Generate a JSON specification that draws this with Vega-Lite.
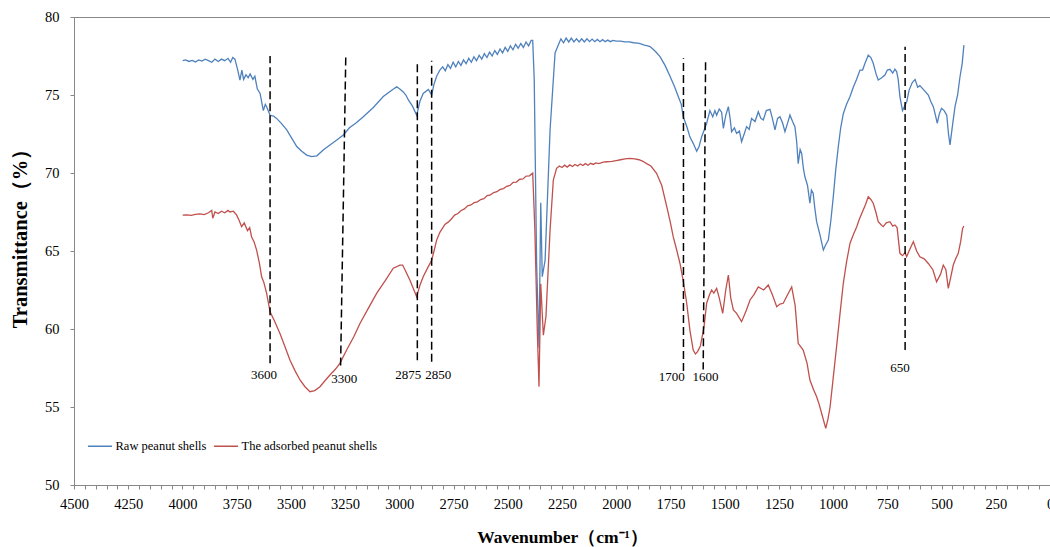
{
"$schema": "https://vega.github.io/schema/vega-lite/v6.json",
"width": 976, "height": 468,
"autosize": {"type": "none"},
"padding": {"left": 74, "top": 17, "right": 0, "bottom": 62},
"background": "white",
"config": {"view": {"stroke": "#888888", "strokeWidth": 1}, "font": "Liberation Serif",
"axis": {"labelFont": "Liberation Serif", "titleFont": "Liberation Serif", "labelOverlap": false, "grid": false,
"tickSize": 4, "tickColor": "#888888", "domainColor": "#888888", "labelFontSize": 14.5, "labelColor": "#000000",
"titleFontWeight": "bold", "titleColor": "#000000", "format": "d"},
"axisX": {"tickCount": 90, "labelExpr": "datum.value % 250 === 0 ? datum.label : ''", "labelFlush": false, "labelPadding": 8, "titleFontSize": 17.5, "titleY": 52, "titleBaseline": "middle"},
"axisY": {"tickCount": 6, "labelPadding": 11, "titleFontSize": 20.5, "titleX": -54, "titleY": 216, "titleBaseline": "middle", "titleAngle": -90}},
"datasets": {
"spectra": [
{"s":"Raw peanut shells","wn":3999,"t":77.2},{"s":"Raw peanut shells","wn":3985,"t":77.25},{"s":"Raw peanut shells","wn":3970,"t":77.15},{"s":"Raw peanut shells","wn":3955,"t":77.22},{"s":"Raw peanut shells","wn":3940,"t":77.12},{"s":"Raw peanut shells","wn":3925,"t":77.25},{"s":"Raw peanut shells","wn":3910,"t":77.18},{"s":"Raw peanut shells","wn":3895,"t":77.3},{"s":"Raw peanut shells","wn":3880,"t":77.2},{"s":"Raw peanut shells","wn":3865,"t":77.1},{"s":"Raw peanut shells","wn":3850,"t":77.3},{"s":"Raw peanut shells","wn":3835,"t":77.15},{"s":"Raw peanut shells","wn":3820,"t":77.3},{"s":"Raw peanut shells","wn":3805,"t":77.2},{"s":"Raw peanut shells","wn":3790,"t":77.35},{"s":"Raw peanut shells","wn":3778,"t":77.1},{"s":"Raw peanut shells","wn":3768,"t":77.4},{"s":"Raw peanut shells","wn":3758,"t":77.3},{"s":"Raw peanut shells","wn":3745,"t":76.6},{"s":"Raw peanut shells","wn":3735,"t":75.96},{"s":"Raw peanut shells","wn":3726,"t":76.6},{"s":"Raw peanut shells","wn":3718,"t":76.0},{"s":"Raw peanut shells","wn":3707,"t":76.3},{"s":"Raw peanut shells","wn":3697,"t":76.1},{"s":"Raw peanut shells","wn":3688,"t":76.35},{"s":"Raw peanut shells","wn":3675,"t":76.0},{"s":"Raw peanut shells","wn":3666,"t":76.2},{"s":"Raw peanut shells","wn":3655,"t":75.4},{"s":"Raw peanut shells","wn":3642,"t":75.1},{"s":"Raw peanut shells","wn":3627,"t":74.0},{"s":"Raw peanut shells","wn":3618,"t":74.4},{"s":"Raw peanut shells","wn":3612,"t":74.25},{"s":"Raw peanut shells","wn":3596,"t":73.7},{"s":"Raw peanut shells","wn":3580,"t":73.65},{"s":"Raw peanut shells","wn":3566,"t":73.5},{"s":"Raw peanut shells","wn":3545,"t":73.2},{"s":"Raw peanut shells","wn":3519,"t":72.76},{"s":"Raw peanut shells","wn":3495,"t":72.2},{"s":"Raw peanut shells","wn":3473,"t":71.7},{"s":"Raw peanut shells","wn":3450,"t":71.4},{"s":"Raw peanut shells","wn":3427,"t":71.15},{"s":"Raw peanut shells","wn":3404,"t":71.05},{"s":"Raw peanut shells","wn":3380,"t":71.1},{"s":"Raw peanut shells","wn":3351,"t":71.47},{"s":"Raw peanut shells","wn":3320,"t":71.8},{"s":"Raw peanut shells","wn":3290,"t":72.1},{"s":"Raw peanut shells","wn":3258,"t":72.44},{"s":"Raw peanut shells","wn":3230,"t":72.9},{"s":"Raw peanut shells","wn":3200,"t":73.2},{"s":"Raw peanut shells","wn":3166,"t":73.6},{"s":"Raw peanut shells","wn":3120,"t":74.2},{"s":"Raw peanut shells","wn":3074,"t":74.9},{"s":"Raw peanut shells","wn":3040,"t":75.25},{"s":"Raw peanut shells","wn":3012,"t":75.53},{"s":"Raw peanut shells","wn":2995,"t":75.35},{"s":"Raw peanut shells","wn":2982,"t":75.2},{"s":"Raw peanut shells","wn":2970,"t":75.0},{"s":"Raw peanut shells","wn":2959,"t":74.7},{"s":"Raw peanut shells","wn":2940,"t":74.3},{"s":"Raw peanut shells","wn":2920,"t":73.7},{"s":"Raw peanut shells","wn":2905,"t":74.6},{"s":"Raw peanut shells","wn":2890,"t":75.1},{"s":"Raw peanut shells","wn":2866,"t":75.36},{"s":"Raw peanut shells","wn":2851,"t":75.0},{"s":"Raw peanut shells","wn":2840,"t":75.7},{"s":"Raw peanut shells","wn":2828,"t":76.2},{"s":"Raw peanut shells","wn":2813,"t":76.6},
{"s":"Raw peanut shells","wn":2800,"t":76.8},{"s":"Raw peanut shells","wn":2788,"t":76.55},{"s":"Raw peanut shells","wn":2776,"t":76.95},{"s":"Raw peanut shells","wn":2764,"t":76.7},{"s":"Raw peanut shells","wn":2752,"t":77.1},{"s":"Raw peanut shells","wn":2740,"t":76.8},{"s":"Raw peanut shells","wn":2728,"t":77.15},{"s":"Raw peanut shells","wn":2716,"t":76.9},{"s":"Raw peanut shells","wn":2704,"t":77.25},{"s":"Raw peanut shells","wn":2692,"t":77.0},{"s":"Raw peanut shells","wn":2680,"t":77.35},{"s":"Raw peanut shells","wn":2668,"t":77.1},{"s":"Raw peanut shells","wn":2656,"t":77.45},{"s":"Raw peanut shells","wn":2644,"t":77.2},{"s":"Raw peanut shells","wn":2632,"t":77.55},{"s":"Raw peanut shells","wn":2620,"t":77.3},{"s":"Raw peanut shells","wn":2608,"t":77.65},{"s":"Raw peanut shells","wn":2596,"t":77.4},{"s":"Raw peanut shells","wn":2584,"t":77.75},{"s":"Raw peanut shells","wn":2572,"t":77.5},{"s":"Raw peanut shells","wn":2560,"t":77.85},{"s":"Raw peanut shells","wn":2548,"t":77.6},{"s":"Raw peanut shells","wn":2536,"t":77.95},{"s":"Raw peanut shells","wn":2524,"t":77.7},{"s":"Raw peanut shells","wn":2512,"t":78.05},{"s":"Raw peanut shells","wn":2500,"t":77.8},{"s":"Raw peanut shells","wn":2488,"t":78.15},{"s":"Raw peanut shells","wn":2476,"t":77.9},{"s":"Raw peanut shells","wn":2464,"t":78.25},{"s":"Raw peanut shells","wn":2452,"t":78.0},{"s":"Raw peanut shells","wn":2440,"t":78.3},{"s":"Raw peanut shells","wn":2428,"t":78.05},{"s":"Raw peanut shells","wn":2416,"t":78.4},{"s":"Raw peanut shells","wn":2404,"t":78.15},{"s":"Raw peanut shells","wn":2392,"t":78.5},{"s":"Raw peanut shells","wn":2385,"t":78.5},
{"s":"Raw peanut shells","wn":2378,"t":75.96},{"s":"Raw peanut shells","wn":2367,"t":64.2},{"s":"Raw peanut shells","wn":2356,"t":58.8},{"s":"Raw peanut shells","wn":2348,"t":68.1},{"s":"Raw peanut shells","wn":2341,"t":63.35},{"s":"Raw peanut shells","wn":2328,"t":64.4},{"s":"Raw peanut shells","wn":2305,"t":72.76},{"s":"Raw peanut shells","wn":2282,"t":77.7},{"s":"Raw peanut shells","wn":2267,"t":78.2},
{"s":"Raw peanut shells","wn":2255,"t":78.6},{"s":"Raw peanut shells","wn":2243,"t":78.35},{"s":"Raw peanut shells","wn":2231,"t":78.65},{"s":"Raw peanut shells","wn":2219,"t":78.4},{"s":"Raw peanut shells","wn":2207,"t":78.65},{"s":"Raw peanut shells","wn":2195,"t":78.4},{"s":"Raw peanut shells","wn":2183,"t":78.6},{"s":"Raw peanut shells","wn":2171,"t":78.4},{"s":"Raw peanut shells","wn":2159,"t":78.6},{"s":"Raw peanut shells","wn":2147,"t":78.4},{"s":"Raw peanut shells","wn":2135,"t":78.6},{"s":"Raw peanut shells","wn":2123,"t":78.42},{"s":"Raw peanut shells","wn":2111,"t":78.58},{"s":"Raw peanut shells","wn":2099,"t":78.42},{"s":"Raw peanut shells","wn":2087,"t":78.56},{"s":"Raw peanut shells","wn":2075,"t":78.42},{"s":"Raw peanut shells","wn":2063,"t":78.55},{"s":"Raw peanut shells","wn":2051,"t":78.42},{"s":"Raw peanut shells","wn":2039,"t":78.52},{"s":"Raw peanut shells","wn":2027,"t":78.42},{"s":"Raw peanut shells","wn":2015,"t":78.5},{"s":"Raw peanut shells","wn":2000,"t":78.45},{"s":"Raw peanut shells","wn":1980,"t":78.45},{"s":"Raw peanut shells","wn":1960,"t":78.4},{"s":"Raw peanut shells","wn":1940,"t":78.4},{"s":"Raw peanut shells","wn":1920,"t":78.35},{"s":"Raw peanut shells","wn":1900,"t":78.32},{"s":"Raw peanut shells","wn":1890,"t":78.3},{"s":"Raw peanut shells","wn":1870,"t":78.2},{"s":"Raw peanut shells","wn":1855,"t":78.15},{"s":"Raw peanut shells","wn":1844,"t":78.1},
{"s":"Raw peanut shells","wn":1820,"t":77.8},{"s":"Raw peanut shells","wn":1798,"t":77.46},{"s":"Raw peanut shells","wn":1775,"t":76.9},{"s":"Raw peanut shells","wn":1752,"t":76.2},{"s":"Raw peanut shells","wn":1730,"t":75.5},{"s":"Raw peanut shells","wn":1714,"t":74.9},{"s":"Raw peanut shells","wn":1700,"t":74.4},{"s":"Raw peanut shells","wn":1691,"t":73.6},{"s":"Raw peanut shells","wn":1675,"t":73.0},{"s":"Raw peanut shells","wn":1660,"t":72.3},{"s":"Raw peanut shells","wn":1645,"t":71.9},{"s":"Raw peanut shells","wn":1629,"t":71.4},{"s":"Raw peanut shells","wn":1618,"t":71.7},{"s":"Raw peanut shells","wn":1606,"t":72.33},{"s":"Raw peanut shells","wn":1583,"t":73.19},{"s":"Raw peanut shells","wn":1568,"t":74.0},{"s":"Raw peanut shells","wn":1555,"t":73.6},{"s":"Raw peanut shells","wn":1545,"t":74.0},{"s":"Raw peanut shells","wn":1537,"t":73.7},{"s":"Raw peanut shells","wn":1525,"t":74.1},{"s":"Raw peanut shells","wn":1514,"t":73.9},{"s":"Raw peanut shells","wn":1506,"t":72.86},{"s":"Raw peanut shells","wn":1495,"t":73.7},{"s":"Raw peanut shells","wn":1483,"t":74.25},{"s":"Raw peanut shells","wn":1475,"t":73.5},{"s":"Raw peanut shells","wn":1468,"t":72.65},{"s":"Raw peanut shells","wn":1455,"t":72.9},{"s":"Raw peanut shells","wn":1445,"t":72.54},{"s":"Raw peanut shells","wn":1432,"t":72.7},{"s":"Raw peanut shells","wn":1422,"t":72.0},{"s":"Raw peanut shells","wn":1410,"t":72.5},{"s":"Raw peanut shells","wn":1399,"t":72.97},{"s":"Raw peanut shells","wn":1387,"t":72.8},{"s":"Raw peanut shells","wn":1376,"t":73.5},{"s":"Raw peanut shells","wn":1360,"t":73.3},{"s":"Raw peanut shells","wn":1345,"t":73.93},{"s":"Raw peanut shells","wn":1333,"t":73.5},{"s":"Raw peanut shells","wn":1322,"t":73.4},{"s":"Raw peanut shells","wn":1308,"t":74.0},{"s":"Raw peanut shells","wn":1291,"t":74.08},{"s":"Raw peanut shells","wn":1280,"t":73.5},{"s":"Raw peanut shells","wn":1268,"t":72.76},{"s":"Raw peanut shells","wn":1256,"t":73.5},{"s":"Raw peanut shells","wn":1245,"t":73.6},{"s":"Raw peanut shells","wn":1233,"t":73.2},{"s":"Raw peanut shells","wn":1222,"t":72.65},{"s":"Raw peanut shells","wn":1210,"t":73.2},{"s":"Raw peanut shells","wn":1199,"t":73.72},{"s":"Raw peanut shells","wn":1187,"t":73.3},{"s":"Raw peanut shells","wn":1176,"t":72.97},{"s":"Raw peanut shells","wn":1168,"t":72.0},{"s":"Raw peanut shells","wn":1161,"t":70.6},{"s":"Raw peanut shells","wn":1152,"t":71.5},{"s":"Raw peanut shells","wn":1145,"t":71.26},{"s":"Raw peanut shells","wn":1137,"t":70.3},{"s":"Raw peanut shells","wn":1130,"t":69.76},{"s":"Raw peanut shells","wn":1118,"t":69.2},{"s":"Raw peanut shells","wn":1107,"t":68.06},{"s":"Raw peanut shells","wn":1100,"t":68.9},{"s":"Raw peanut shells","wn":1092,"t":68.7},{"s":"Raw peanut shells","wn":1084,"t":67.7},{"s":"Raw peanut shells","wn":1076,"t":66.88},{"s":"Raw peanut shells","wn":1060,"t":66.0},{"s":"Raw peanut shells","wn":1045,"t":65.06},{"s":"Raw peanut shells","wn":1034,"t":65.4},{"s":"Raw peanut shells","wn":1022,"t":65.7},{"s":"Raw peanut shells","wn":1010,"t":67.0},{"s":"Raw peanut shells","wn":999,"t":68.5},{"s":"Raw peanut shells","wn":988,"t":70.2},{"s":"Raw peanut shells","wn":976,"t":71.7},{"s":"Raw peanut shells","wn":965,"t":72.9},{"s":"Raw peanut shells","wn":953,"t":73.8},{"s":"Raw peanut shells","wn":938,"t":74.4},{"s":"Raw peanut shells","wn":922,"t":74.9},{"s":"Raw peanut shells","wn":907,"t":75.5},{"s":"Raw peanut shells","wn":892,"t":76.0},{"s":"Raw peanut shells","wn":876,"t":76.6},{"s":"Raw peanut shells","wn":864,"t":76.6},{"s":"Raw peanut shells","wn":853,"t":77.03},{"s":"Raw peanut shells","wn":845,"t":77.3},{"s":"Raw peanut shells","wn":838,"t":77.56},{"s":"Raw peanut shells","wn":826,"t":77.4},{"s":"Raw peanut shells","wn":815,"t":77.03},{"s":"Raw peanut shells","wn":803,"t":76.4},{"s":"Raw peanut shells","wn":792,"t":75.96},{"s":"Raw peanut shells","wn":776,"t":76.1},{"s":"Raw peanut shells","wn":761,"t":76.28},{"s":"Raw peanut shells","wn":750,"t":76.6},{"s":"Raw peanut shells","wn":738,"t":76.65},{"s":"Raw peanut shells","wn":725,"t":76.4},{"s":"Raw peanut shells","wn":715,"t":76.65},{"s":"Raw peanut shells","wn":707,"t":76.5},{"s":"Raw peanut shells","wn":700,"t":76.0},{"s":"Raw peanut shells","wn":692,"t":74.9},{"s":"Raw peanut shells","wn":680,"t":74.0},{"s":"Raw peanut shells","wn":670,"t":74.3},{"s":"Raw peanut shells","wn":660,"t":74.6},{"s":"Raw peanut shells","wn":650,"t":75.3},{"s":"Raw peanut shells","wn":635,"t":75.8},{"s":"Raw peanut shells","wn":622,"t":76.0},{"s":"Raw peanut shells","wn":610,"t":75.5},{"s":"Raw peanut shells","wn":600,"t":75.6},{"s":"Raw peanut shells","wn":580,"t":75.3},{"s":"Raw peanut shells","wn":561,"t":75.0},{"s":"Raw peanut shells","wn":550,"t":74.6},{"s":"Raw peanut shells","wn":538,"t":74.25},{"s":"Raw peanut shells","wn":528,"t":73.7},{"s":"Raw peanut shells","wn":520,"t":73.19},{"s":"Raw peanut shells","wn":510,"t":73.8},{"s":"Raw peanut shells","wn":500,"t":74.15},{"s":"Raw peanut shells","wn":488,"t":74.0},{"s":"Raw peanut shells","wn":476,"t":73.7},{"s":"Raw peanut shells","wn":468,"t":72.5},{"s":"Raw peanut shells","wn":461,"t":71.8},{"s":"Raw peanut shells","wn":450,"t":73.0},{"s":"Raw peanut shells","wn":438,"t":74.25},{"s":"Raw peanut shells","wn":426,"t":75.0},{"s":"Raw peanut shells","wn":415,"t":76.17},{"s":"Raw peanut shells","wn":405,"t":77.0},{"s":"Raw peanut shells","wn":397,"t":78.2},
{"s":"The adsorbed peanut shells","wn":3999,"t":67.3},{"s":"The adsorbed peanut shells","wn":3980,"t":67.32},{"s":"The adsorbed peanut shells","wn":3960,"t":67.28},{"s":"The adsorbed peanut shells","wn":3940,"t":67.35},{"s":"The adsorbed peanut shells","wn":3920,"t":67.38},{"s":"The adsorbed peanut shells","wn":3900,"t":67.33},{"s":"The adsorbed peanut shells","wn":3880,"t":67.45},{"s":"The adsorbed peanut shells","wn":3865,"t":67.6},{"s":"The adsorbed peanut shells","wn":3860,"t":67.1},{"s":"The adsorbed peanut shells","wn":3850,"t":67.5},{"s":"The adsorbed peanut shells","wn":3835,"t":67.4},{"s":"The adsorbed peanut shells","wn":3820,"t":67.55},{"s":"The adsorbed peanut shells","wn":3805,"t":67.45},{"s":"The adsorbed peanut shells","wn":3790,"t":67.6},{"s":"The adsorbed peanut shells","wn":3781,"t":67.5},{"s":"The adsorbed peanut shells","wn":3765,"t":67.55},{"s":"The adsorbed peanut shells","wn":3750,"t":67.3},{"s":"The adsorbed peanut shells","wn":3740,"t":67.0},{"s":"The adsorbed peanut shells","wn":3727,"t":66.56},{"s":"The adsorbed peanut shells","wn":3715,"t":66.8},{"s":"The adsorbed peanut shells","wn":3700,"t":66.3},{"s":"The adsorbed peanut shells","wn":3690,"t":66.5},{"s":"The adsorbed peanut shells","wn":3681,"t":65.9},{"s":"The adsorbed peanut shells","wn":3670,"t":65.6},{"s":"The adsorbed peanut shells","wn":3658,"t":65.06},{"s":"The adsorbed peanut shells","wn":3645,"t":64.2},{"s":"The adsorbed peanut shells","wn":3635,"t":63.35},{"s":"The adsorbed peanut shells","wn":3625,"t":63.0},{"s":"The adsorbed peanut shells","wn":3612,"t":62.3},{"s":"The adsorbed peanut shells","wn":3596,"t":61.1},{"s":"The adsorbed peanut shells","wn":3575,"t":60.5},{"s":"The adsorbed peanut shells","wn":3550,"t":59.7},{"s":"The adsorbed peanut shells","wn":3528,"t":58.9},{"s":"The adsorbed peanut shells","wn":3504,"t":58.0},{"s":"The adsorbed peanut shells","wn":3480,"t":57.3},{"s":"The adsorbed peanut shells","wn":3458,"t":56.73},{"s":"The adsorbed peanut shells","wn":3435,"t":56.3},{"s":"The adsorbed peanut shells","wn":3412,"t":55.98},{"s":"The adsorbed peanut shells","wn":3390,"t":56.05},{"s":"The adsorbed peanut shells","wn":3366,"t":56.3},{"s":"The adsorbed peanut shells","wn":3342,"t":56.7},{"s":"The adsorbed peanut shells","wn":3320,"t":57.05},{"s":"The adsorbed peanut shells","wn":3296,"t":57.4},{"s":"The adsorbed peanut shells","wn":3274,"t":57.8},{"s":"The adsorbed peanut shells","wn":3243,"t":58.65},{"s":"The adsorbed peanut shells","wn":3210,"t":59.5},{"s":"The adsorbed peanut shells","wn":3181,"t":60.37},{"s":"The adsorbed peanut shells","wn":3140,"t":61.4},{"s":"The adsorbed peanut shells","wn":3104,"t":62.3},{"s":"The adsorbed peanut shells","wn":3065,"t":63.1},{"s":"The adsorbed peanut shells","wn":3028,"t":63.9},{"s":"The adsorbed peanut shells","wn":2997,"t":64.1},{"s":"The adsorbed peanut shells","wn":2985,"t":64.1},{"s":"The adsorbed peanut shells","wn":2974,"t":63.8},{"s":"The adsorbed peanut shells","wn":2950,"t":63.1},{"s":"The adsorbed peanut shells","wn":2920,"t":62.07},{"s":"The adsorbed peanut shells","wn":2905,"t":62.8},{"s":"The adsorbed peanut shells","wn":2890,"t":63.35},{"s":"The adsorbed peanut shells","wn":2870,"t":63.9},{"s":"The adsorbed peanut shells","wn":2851,"t":64.4},{"s":"The adsorbed peanut shells","wn":2840,"t":65.0},{"s":"The adsorbed peanut shells","wn":2828,"t":65.7},{"s":"The adsorbed peanut shells","wn":2813,"t":66.2},{"s":"The adsorbed peanut shells","wn":2790,"t":66.7},{"s":"The adsorbed peanut shells","wn":2775,"t":66.85},{"s":"The adsorbed peanut shells","wn":2760,"t":67.05},{"s":"The adsorbed peanut shells","wn":2745,"t":67.3},{"s":"The adsorbed peanut shells","wn":2730,"t":67.4},{"s":"The adsorbed peanut shells","wn":2715,"t":67.6},{"s":"The adsorbed peanut shells","wn":2700,"t":67.7},{"s":"The adsorbed peanut shells","wn":2685,"t":67.9},{"s":"The adsorbed peanut shells","wn":2670,"t":67.95},{"s":"The adsorbed peanut shells","wn":2655,"t":68.1},{"s":"The adsorbed peanut shells","wn":2640,"t":68.15},{"s":"The adsorbed peanut shells","wn":2625,"t":68.3},{"s":"The adsorbed peanut shells","wn":2610,"t":68.35},{"s":"The adsorbed peanut shells","wn":2595,"t":68.55},{"s":"The adsorbed peanut shells","wn":2580,"t":68.6},{"s":"The adsorbed peanut shells","wn":2565,"t":68.75},{"s":"The adsorbed peanut shells","wn":2550,"t":68.8},{"s":"The adsorbed peanut shells","wn":2535,"t":68.95},{"s":"The adsorbed peanut shells","wn":2520,"t":69.0},{"s":"The adsorbed peanut shells","wn":2505,"t":69.15},{"s":"The adsorbed peanut shells","wn":2490,"t":69.2},{"s":"The adsorbed peanut shells","wn":2475,"t":69.4},{"s":"The adsorbed peanut shells","wn":2460,"t":69.42},{"s":"The adsorbed peanut shells","wn":2445,"t":69.6},{"s":"The adsorbed peanut shells","wn":2430,"t":69.62},{"s":"The adsorbed peanut shells","wn":2415,"t":69.8},{"s":"The adsorbed peanut shells","wn":2400,"t":69.82},{"s":"The adsorbed peanut shells","wn":2385,"t":70.0},
{"s":"The adsorbed peanut shells","wn":2375,"t":66.35},{"s":"The adsorbed peanut shells","wn":2364,"t":59.94},{"s":"The adsorbed peanut shells","wn":2356,"t":56.3},{"s":"The adsorbed peanut shells","wn":2348,"t":62.9},{"s":"The adsorbed peanut shells","wn":2336,"t":59.6},{"s":"The adsorbed peanut shells","wn":2324,"t":60.8},{"s":"The adsorbed peanut shells","wn":2305,"t":66.35},{"s":"The adsorbed peanut shells","wn":2290,"t":69.55},{"s":"The adsorbed peanut shells","wn":2275,"t":70.3},
{"s":"The adsorbed peanut shells","wn":2262,"t":70.45},{"s":"The adsorbed peanut shells","wn":2250,"t":70.35},{"s":"The adsorbed peanut shells","wn":2238,"t":70.5},{"s":"The adsorbed peanut shells","wn":2226,"t":70.38},{"s":"The adsorbed peanut shells","wn":2214,"t":70.52},{"s":"The adsorbed peanut shells","wn":2202,"t":70.42},{"s":"The adsorbed peanut shells","wn":2190,"t":70.55},{"s":"The adsorbed peanut shells","wn":2178,"t":70.45},{"s":"The adsorbed peanut shells","wn":2166,"t":70.58},{"s":"The adsorbed peanut shells","wn":2154,"t":70.48},{"s":"The adsorbed peanut shells","wn":2142,"t":70.6},{"s":"The adsorbed peanut shells","wn":2130,"t":70.5},{"s":"The adsorbed peanut shells","wn":2118,"t":70.62},{"s":"The adsorbed peanut shells","wn":2106,"t":70.55},{"s":"The adsorbed peanut shells","wn":2094,"t":70.65},{"s":"The adsorbed peanut shells","wn":2080,"t":70.6},{"s":"The adsorbed peanut shells","wn":2060,"t":70.7},{"s":"The adsorbed peanut shells","wn":2044,"t":70.72},{"s":"The adsorbed peanut shells","wn":2020,"t":70.75},{"s":"The adsorbed peanut shells","wn":2000,"t":70.8},{"s":"The adsorbed peanut shells","wn":1980,"t":70.85},{"s":"The adsorbed peanut shells","wn":1960,"t":70.9},{"s":"The adsorbed peanut shells","wn":1937,"t":70.94},{"s":"The adsorbed peanut shells","wn":1915,"t":70.9},{"s":"The adsorbed peanut shells","wn":1895,"t":70.85},{"s":"The adsorbed peanut shells","wn":1877,"t":70.75},{"s":"The adsorbed peanut shells","wn":1860,"t":70.6},{"s":"The adsorbed peanut shells","wn":1840,"t":70.45},{"s":"The adsorbed peanut shells","wn":1814,"t":69.98},{"s":"The adsorbed peanut shells","wn":1790,"t":69.2},{"s":"The adsorbed peanut shells","wn":1767,"t":67.84},{"s":"The adsorbed peanut shells","wn":1750,"t":66.8},{"s":"The adsorbed peanut shells","wn":1737,"t":65.9},{"s":"The adsorbed peanut shells","wn":1720,"t":65.0},{"s":"The adsorbed peanut shells","wn":1706,"t":64.2},{"s":"The adsorbed peanut shells","wn":1690,"t":63.0},{"s":"The adsorbed peanut shells","wn":1675,"t":61.65},{"s":"The adsorbed peanut shells","wn":1660,"t":59.9},{"s":"The adsorbed peanut shells","wn":1645,"t":58.65},{"s":"The adsorbed peanut shells","wn":1635,"t":58.4},{"s":"The adsorbed peanut shells","wn":1625,"t":58.55},{"s":"The adsorbed peanut shells","wn":1612,"t":58.9},{"s":"The adsorbed peanut shells","wn":1595,"t":60.15},{"s":"The adsorbed peanut shells","wn":1583,"t":61.65},{"s":"The adsorbed peanut shells","wn":1570,"t":62.2},{"s":"The adsorbed peanut shells","wn":1560,"t":62.5},{"s":"The adsorbed peanut shells","wn":1550,"t":62.3},{"s":"The adsorbed peanut shells","wn":1537,"t":62.6},{"s":"The adsorbed peanut shells","wn":1525,"t":62.0},{"s":"The adsorbed peanut shells","wn":1509,"t":61.0},{"s":"The adsorbed peanut shells","wn":1495,"t":62.5},{"s":"The adsorbed peanut shells","wn":1483,"t":63.46},{"s":"The adsorbed peanut shells","wn":1472,"t":62.0},{"s":"The adsorbed peanut shells","wn":1460,"t":61.22},{"s":"The adsorbed peanut shells","wn":1445,"t":61.0},{"s":"The adsorbed peanut shells","wn":1422,"t":60.47},{"s":"The adsorbed peanut shells","wn":1400,"t":61.2},{"s":"The adsorbed peanut shells","wn":1383,"t":61.86},{"s":"The adsorbed peanut shells","wn":1365,"t":62.2},{"s":"The adsorbed peanut shells","wn":1345,"t":62.7},{"s":"The adsorbed peanut shells","wn":1320,"t":62.5},{"s":"The adsorbed peanut shells","wn":1299,"t":62.82},{"s":"The adsorbed peanut shells","wn":1280,"t":62.2},{"s":"The adsorbed peanut shells","wn":1260,"t":61.43},{"s":"The adsorbed peanut shells","wn":1245,"t":61.6},{"s":"The adsorbed peanut shells","wn":1230,"t":61.65},{"s":"The adsorbed peanut shells","wn":1210,"t":62.2},{"s":"The adsorbed peanut shells","wn":1191,"t":62.7},{"s":"The adsorbed peanut shells","wn":1175,"t":61.5},{"s":"The adsorbed peanut shells","wn":1161,"t":59.08},{"s":"The adsorbed peanut shells","wn":1138,"t":58.65},{"s":"The adsorbed peanut shells","wn":1120,"t":57.8},{"s":"The adsorbed peanut shells","wn":1107,"t":56.73},{"s":"The adsorbed peanut shells","wn":1090,"t":56.1},{"s":"The adsorbed peanut shells","wn":1076,"t":55.66},{"s":"The adsorbed peanut shells","wn":1065,"t":55.2},{"s":"The adsorbed peanut shells","wn":1053,"t":54.6},{"s":"The adsorbed peanut shells","wn":1034,"t":53.63},{"s":"The adsorbed peanut shells","wn":1024,"t":54.2},{"s":"The adsorbed peanut shells","wn":1014,"t":55.0},{"s":"The adsorbed peanut shells","wn":1000,"t":56.8},{"s":"The adsorbed peanut shells","wn":984,"t":58.87},{"s":"The adsorbed peanut shells","wn":968,"t":61.0},{"s":"The adsorbed peanut shells","wn":953,"t":62.93},{"s":"The adsorbed peanut shells","wn":938,"t":64.3},{"s":"The adsorbed peanut shells","wn":922,"t":65.5},{"s":"The adsorbed peanut shells","wn":905,"t":66.1},{"s":"The adsorbed peanut shells","wn":891,"t":66.56},{"s":"The adsorbed peanut shells","wn":880,"t":67.0},{"s":"The adsorbed peanut shells","wn":868,"t":67.4},{"s":"The adsorbed peanut shells","wn":850,"t":68.0},{"s":"The adsorbed peanut shells","wn":838,"t":68.48},{"s":"The adsorbed peanut shells","wn":826,"t":68.3},{"s":"The adsorbed peanut shells","wn":815,"t":68.06},{"s":"The adsorbed peanut shells","wn":803,"t":67.5},{"s":"The adsorbed peanut shells","wn":792,"t":66.88},{"s":"The adsorbed peanut shells","wn":780,"t":66.7},{"s":"The adsorbed peanut shells","wn":769,"t":66.56},{"s":"The adsorbed peanut shells","wn":755,"t":66.8},{"s":"The adsorbed peanut shells","wn":738,"t":66.88},{"s":"The adsorbed peanut shells","wn":725,"t":66.6},{"s":"The adsorbed peanut shells","wn":715,"t":66.67},{"s":"The adsorbed peanut shells","wn":705,"t":66.5},{"s":"The adsorbed peanut shells","wn":692,"t":64.85},{"s":"The adsorbed peanut shells","wn":680,"t":64.7},{"s":"The adsorbed peanut shells","wn":668,"t":64.9},{"s":"The adsorbed peanut shells","wn":661,"t":64.63},{"s":"The adsorbed peanut shells","wn":650,"t":65.0},{"s":"The adsorbed peanut shells","wn":640,"t":65.3},{"s":"The adsorbed peanut shells","wn":630,"t":65.6},{"s":"The adsorbed peanut shells","wn":615,"t":65.0},{"s":"The adsorbed peanut shells","wn":600,"t":64.63},{"s":"The adsorbed peanut shells","wn":580,"t":64.5},{"s":"The adsorbed peanut shells","wn":561,"t":64.2},{"s":"The adsorbed peanut shells","wn":540,"t":63.8},{"s":"The adsorbed peanut shells","wn":523,"t":63.03},{"s":"The adsorbed peanut shells","wn":505,"t":63.5},{"s":"The adsorbed peanut shells","wn":492,"t":64.1},{"s":"The adsorbed peanut shells","wn":480,"t":63.8},{"s":"The adsorbed peanut shells","wn":469,"t":62.6},{"s":"The adsorbed peanut shells","wn":458,"t":63.3},{"s":"The adsorbed peanut shells","wn":446,"t":64.1},{"s":"The adsorbed peanut shells","wn":435,"t":64.5},{"s":"The adsorbed peanut shells","wn":423,"t":64.85},{"s":"The adsorbed peanut shells","wn":412,"t":65.6},{"s":"The adsorbed peanut shells","wn":403,"t":66.45},{"s":"The adsorbed peanut shells","wn":397,"t":66.6}
],
"guides": [
{"wn":3596,"wn2":3596,"t":57.8,"t2":77.5},
{"wn":3247,"wn2":3271,"t":77.4,"t2":57.5},
{"wn":2917,"wn2":2917,"t":58.0,"t2":77.14},
{"wn":2851,"wn2":2851,"t":57.9,"t2":77.2},
{"wn":1690,"wn2":1690,"t":57.3,"t2":77.35},
{"wn":1588,"wn2":1599,"t":77.1,"t2":57.4},
{"wn":668,"wn2":668,"t":58.65,"t2":78.1}
],
"labels": [
{"wn":3624,"t":57.05,"label":"3600"},
{"wn":3254,"t":56.78,"label":"3300"},
{"wn":2959,"t":57.05,"label":"2875"},
{"wn":2820,"t":57.05,"label":"2850"},
{"wn":1744,"t":56.9,"label":"1700"},
{"wn":1588,"t":56.9,"label":"1600"},
{"wn":692,"t":57.48,"label":"650"}
]
},
"layer": [
{
"data": {"name": "spectra"},
"mark": {"type": "line", "strokeWidth": 1.3},
"encoding": {
"x": {"field": "wn", "type": "quantitative",
"scale": {"domain": [0, 4500], "reverse": true, "nice": false, "zero": false},
"axis": {"title": "Wavenumber（cm⁻¹）"}},
"y": {"field": "t", "type": "quantitative",
"scale": {"domain": [50, 80], "nice": false, "zero": false},
"axis": {"title": "Transmittance（%）"}},
"color": {"field": "s", "type": "nominal",
"scale": {"domain": ["Raw peanut shells", "The adsorbed peanut shells"], "range": ["#4F81BD", "#C0504D"]},
"legend": {"title": null, "orient": "none", "legendX": 13, "legendY": 416, "direction": "horizontal",
"symbolType": "stroke", "symbolSize": 576, "symbolStrokeWidth": 1.5,
"labelFont": "Liberation Serif", "labelFontSize": 12.5, "labelColor": "#000000", "labelOffset": 2.5,
"columnPadding": 4, "padding": 0}}
}
},
{
"data": {"name": "guides"},
"mark": {"type": "rule", "color": "#000000", "strokeWidth": 1.5, "strokeDash": [8, 4]},
"encoding": {
"x": {"field": "wn", "type": "quantitative", "axis": {"title": "Wavenumber（cm⁻¹）"}},
"x2": {"field": "wn2"},
"y": {"field": "t", "type": "quantitative", "axis": {"title": "Transmittance（%）"}},
"y2": {"field": "t2"}
}
},
{
"data": {"name": "labels"},
"mark": {"type": "text", "font": "Liberation Serif", "fontSize": 13, "color": "#000000", "align": "center", "baseline": "middle"},
"encoding": {
"x": {"field": "wn", "type": "quantitative", "axis": {"title": "Wavenumber（cm⁻¹）"}},
"y": {"field": "t", "type": "quantitative", "axis": {"title": "Transmittance（%）"}},
"text": {"field": "label"}
}
}
]
}
